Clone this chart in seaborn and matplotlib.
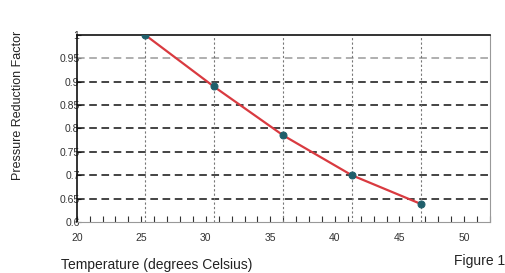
import numpy as np
import pandas as pd
import seaborn as sns
import matplotlib.pyplot as plt
from matplotlib.ticker import MultipleLocator

# Datos
temperatura = [25.3, 30.6, 36.0, 41.3, 46.7]
factor = [1.0, 0.89, 0.785, 0.70, 0.638]
yticks = [0.6, 0.65, 0.7, 0.75, 0.8, 0.85, 0.9, 0.95, 1.0]
ytick_labels = ["0.6", "0.65", "0.7", "0.75", "0.8", "0.85", "0.9", "0.95", "1"]
xticks = [20, 25, 30, 35, 40, 45, 50]

df = pd.DataFrame({"temp": temperatura, "factor": factor})

sns.set_style("white")
plt.rcParams["font.family"] = ["Liberation Sans", "DejaVu Sans"]

fig = plt.figure(figsize=(5.05, 2.73), dpi=100)
ax = fig.add_axes([0.152, 0.187, 0.818, 0.685])

# Rejilla horizontal
for y in yticks[1:-1]:
    c = "#9a9a9a" if y == 0.95 else "#111111"
    ax.axhline(y, color=c, ls=(0, (5, 3)), lw=1.1, zorder=1)
# Rejilla vertical en cada punto
for x in temperatura:
    ax.axvline(x, color="#777777", ls=(0, (2, 2)), lw=0.8, zorder=1)

sns.lineplot(data=df, x="temp", y="factor", ax=ax, color="#d93a40", lw=1.6,
             marker="o", markersize=5, markerfacecolor="#1f5f6b",
             markeredgecolor="#1f5f6b", zorder=3)

ax.set_xlim(20, 52)
ax.set_ylim(0.6, 1.0)
ax.set_xticks(xticks)
ax.xaxis.set_minor_locator(MultipleLocator(1))
ax.set_yticks(yticks)
ax.set_yticklabels(ytick_labels)
ax.tick_params(axis="x", which="both", direction="in", length=4, width=0.8,
               color="#333333", labelsize=7.5, pad=8, bottom=True)
ax.tick_params(axis="y", direction="in", length=3, width=0.8, color="#333333",
               labelsize=7.5, pad=-2, left=True)
for lab in ax.get_xticklabels() + ax.get_yticklabels():
    lab.set_color("#333333")

for s in ["left", "top"]:
    ax.spines[s].set_color("#111111")
    ax.spines[s].set_linewidth(1.2)
for s in ["right", "bottom"]:
    ax.spines[s].set_color("#999999")
    ax.spines[s].set_linewidth(0.8)

ax.set_xlabel("")
ax.set_ylabel("")
fig.text(0.035, 0.615, "Pressure Reduction Factor", rotation=90, fontsize=9,
         ha="center", va="center", color="#222222")
fig.text(0.12, 0.005, "Temperature (degrees Celsius)", fontsize=10,
         ha="left", va="bottom", color="#222222")
fig.text(0.90, 0.02, "Figure 1", fontsize=10, ha="left", va="bottom", color="#222222")

fig.savefig("out.png", dpi=100)
